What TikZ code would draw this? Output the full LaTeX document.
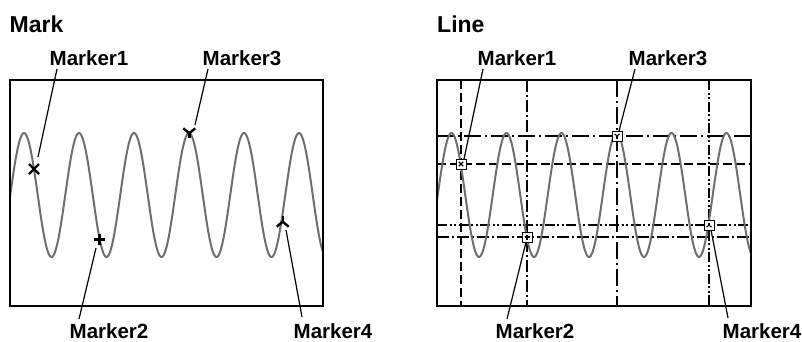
\documentclass[tikz,border=0pt]{standalone}
\usepackage{fontspec}
\setmainfont{Liberation Sans}
\definecolor{wavegray}{HTML}{6E6E6E}
\begin{document}
\begin{tikzpicture}[x=1pt,y=-1pt,
  lbl/.style={font=\bfseries\fontsize{20.5}{24}\selectfont, anchor=base, inner sep=0pt},
  ttl/.style={font=\bfseries\fontsize{23}{27}\selectfont, anchor=base west, inner sep=0pt},
  frm/.style={draw=black, line width=1.5pt},
  wave/.style={draw=wavegray, line width=2pt},
  leader/.style={draw=black, line width=1.2pt},
  mk/.style={draw=black, line width=2.4pt},
  smk/.style={draw=black, line width=1.1pt},
  mbox/.style={draw=black, fill=white, line width=1pt, minimum size=10pt, inner sep=0pt},
  cline/.style={draw=black, line width=2.3pt},
  pA/.style={cline, dash pattern=on 9pt off 4pt},
  pB/.style={cline, dash pattern=on 12pt off 3pt on 2pt off 3pt},
  pC/.style={cline, dash pattern=on 17pt off 4pt on 2pt off 4pt},
  pD/.style={cline, dash pattern=on 10pt off 2.5pt on 2pt off 2.5pt on 2pt off 2.5pt}]
\useasboundingbox (0,0) rectangle (802,341);

% ---------------- Left panel: Mark ----------------
\node[ttl] (tmark) at (9.5,32) {Mark};
\draw[wave] plot[domain=10:323, samples=320, smooth] (\x, {195 - 62*cos(((\x-24)/55)*360)});
\draw[frm] (10,80) rectangle (323,306);

\coordinate (a1) at (34,169);
\coordinate (a2) at (99.5,239.5);
\coordinate (a3) at (189.3,133.3);
\coordinate (a4) at (282.7,221.7);

% markers
\draw[mk] ([shift={(-5,-5)}]a1) -- ([shift={(5,5)}]a1);
\draw[mk] ([shift={(-5,5)}]a1) -- ([shift={(5,-5)}]a1);
\draw[mk] ([shift={(-5.5,0)}]a2) -- ([shift={(5.5,0)}]a2);
\draw[mk] ([shift={(0,-5.5)}]a2) -- ([shift={(0,5.5)}]a2);
\draw[mk] ([shift={(-6,-5)}]a3) -- (a3) -- ([shift={(6,-5)}]a3);
\draw[mk] (a3) -- ([shift={(0,5)}]a3);
\draw[mk] ([shift={(-6,5)}]a4) -- (a4) -- ([shift={(6,5)}]a4);
\draw[mk] (a4) -- ([shift={(0,-6)}]a4);

\node[lbl] (la1) at (89,65) {Marker1};
\node[lbl] (la3) at (242,65) {Marker3};
\node[lbl] (la2) at (109,338) {Marker2};
\node[lbl] (la4) at (333,338) {Marker4};

\coordinate (la1e) at (57,69);   \coordinate (a1e) at (38,157);
\coordinate (la3e) at (208,69);  \coordinate (a3e) at (195,125);
\coordinate (la2e) at (79,319);  \coordinate (a2e) at (96,248);
\coordinate (la4e) at (302,317); \coordinate (a4e) at (286,230);
\draw[leader] (la1e) -- (a1e);
\draw[leader] (la3e) -- (a3e);
\draw[leader] (la2e) -- (a2e);
\draw[leader] (la4e) -- (a4e);

% ---------------- Right panel: Line ----------------
\node[ttl] (tline) at (437,32) {Line};

\coordinate (b1) at (461,164);
\coordinate (b2) at (527,237);
\coordinate (b3) at (617,136);
\coordinate (b4) at (709,225);

% cursor lines
\draw[pA] (461,80) -- (461,306);
\draw[pA] (437,164) -- (751,164);
\draw[pB] (527,80) -- (527,306);
\draw[pB] (437,237) -- (751,237);
\draw[pC] (617,80) -- (617,306);
\draw[pC] (437,136) -- (751,136);
\draw[pD] (709,80) -- (709,306);
\draw[pD] (437,225) -- (751,225);

\draw[wave] plot[domain=437:751, samples=320, smooth] (\x, {195 - 62*cos(((\x-451.5)/55)*360)});
\draw[frm] (437,80) rectangle (751,306);

% boxed markers
\node[mbox] (bx1) at (b1) {};
\node[mbox] (bx2) at (b2) {};
\node[mbox] (bx3) at (b3) {};
\node[mbox] (bx4) at (b4) {};
\draw[smk] ([shift={(-2.2,-2.2)}]b1) -- ([shift={(2.2,2.2)}]b1);
\draw[smk] ([shift={(-2.2,2.2)}]b1) -- ([shift={(2.2,-2.2)}]b1);
\draw[smk] ([shift={(-2.5,0)}]b2) -- ([shift={(2.5,0)}]b2);
\draw[smk] ([shift={(0,-2.5)}]b2) -- ([shift={(0,2.5)}]b2);
\draw[smk] ([shift={(-2.5,-2.2)}]b3) -- (b3) -- ([shift={(2.5,-2.2)}]b3);
\draw[smk] (b3) -- ([shift={(0,2.5)}]b3);
\draw[smk] ([shift={(-2.5,2.2)}]b4) -- (b4) -- ([shift={(2.5,2.2)}]b4);
\draw[smk] (b4) -- ([shift={(0,-2.5)}]b4);

\node[lbl] (lb1) at (517,65) {Marker1};
\node[lbl] (lb3) at (668,65) {Marker3};
\node[lbl] (lb2) at (535,338) {Marker2};
\node[lbl] (lb4) at (762,338) {Marker4};

\coordinate (lb1e) at (483,69);  \coordinate (b1e) at (464,159);
\coordinate (lb3e) at (635,69);  \coordinate (b3e) at (619,131);
\coordinate (lb2e) at (507,319); \coordinate (b2e) at (526,242);
\coordinate (lb4e) at (728,318); \coordinate (b4e) at (711,230);
\draw[leader] (lb1e) -- (b1e);
\draw[leader] (lb3e) -- (b3e);
\draw[leader] (lb2e) -- (b2e);
\draw[leader] (lb4e) -- (b4e);
\end{tikzpicture}
\end{document}
